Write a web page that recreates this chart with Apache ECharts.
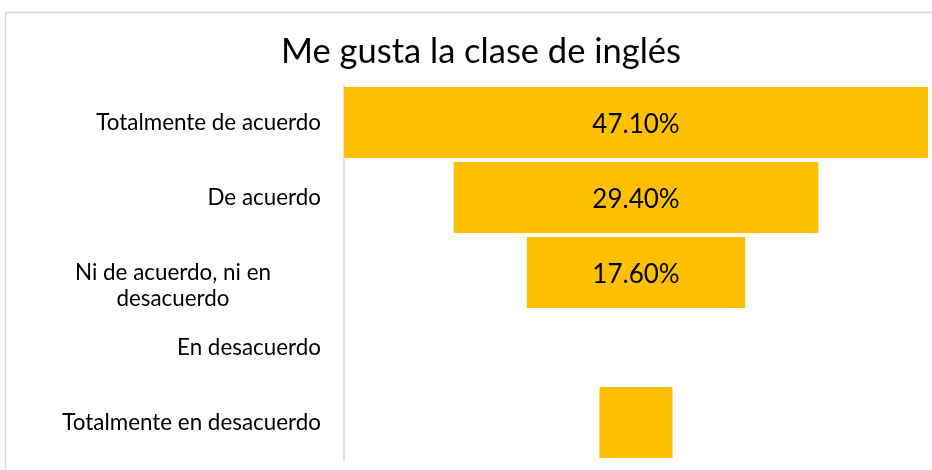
<!DOCTYPE html>
<html>
<head>
<meta charset="utf-8">
<title>Me gusta la clase de inglés</title>
<script src="https://cdn.jsdelivr.net/npm/echarts@6/dist/echarts.min.js"></script>
<style>
  html, body { margin: 0; padding: 0; background: #fff; }
  #main { width: 932px; height: 470px; }
</style>
</head>
<body>
<div id="main"></div>
<script>
// datos
var categorias = ['Totalmente de acuerdo', 'De acuerdo', 'Ni de acuerdo, ni en\ndesacuerdo', 'En desacuerdo', 'Totalmente en desacuerdo'];
var porcentajes = [47.1, 29.4, 17.6, 0, 5.9];
var titulo = 'Me gusta la clase de inglés';

var maximo = Math.max.apply(null, porcentajes);
// relleno invisible a la izquierda para centrar cada barra (embudo)
var relleno = porcentajes.map(function (v) { return (maximo - v) / 2; });

var myChart = echarts.init(document.getElementById('main'));

var option = {
  animation: false,
  title: {
    text: titulo,
    left: 476,
    textAlign: 'center',
    top: 29,
    textStyle: { fontFamily: 'Lato', fontSize: 34.5, fontWeight: 'normal', color: '#000' }
  },
  graphic: [{
    type: 'rect',
    shape: { x: 5.5, y: 12.5, width: 940, height: 480 },
    style: { fill: 'none', stroke: '#d9d9d9', lineWidth: 1.5 },
    silent: true
  }],
  grid: { left: 344, right: 4, top: 85, bottom: 10 },
  xAxis: {
    type: 'value',
    min: 0,
    max: maximo,
    show: false
  },
  yAxis: {
    type: 'category',
    inverse: true,
    data: categorias.map(function (c) {
      if (c.indexOf('\n') >= 0) {
        // Excel centra el rótulo de dos líneas más a la izquierda
        return { value: c, textStyle: { align: 'center', padding: [0, 296, 0, 0], lineHeight: 26.5 } };
      }
      return c;
    }),
    axisLine: { show: true, lineStyle: { color: '#d9d9d9', width: 1.5 } },
    axisTick: { show: false },
    axisLabel: {
      margin: 23,
      fontFamily: 'Lato',
      fontSize: 22.4,
      color: '#000',
      formatter: function (v) {
        // el rótulo de dos líneas empieza a la altura del centro de la barra
        return v.indexOf('\n') >= 0 ? '\n' + v : v;
      }
    }
  },
  series: [
    {
      type: 'bar',
      stack: 'embudo',
      data: relleno,
      silent: true,
      itemStyle: { color: 'rgba(0,0,0,0)' },
      barCategoryGap: '5.3%'
    },
    {
      type: 'bar',
      stack: 'embudo',
      data: porcentajes,
      itemStyle: { color: '#FFC000' },
      barCategoryGap: '5.3%',
      label: {
        show: true,
        position: 'inside',
        offset: [0, 2],
        fontFamily: 'Lato',
        fontSize: 26,
        color: '#000',
        formatter: function (p) {
          return p.value >= 10 ? p.value.toFixed(2) + '%' : '';
        }
      }
    }
  ]
};

myChart.setOption(option);
</script>
</body>
</html>
